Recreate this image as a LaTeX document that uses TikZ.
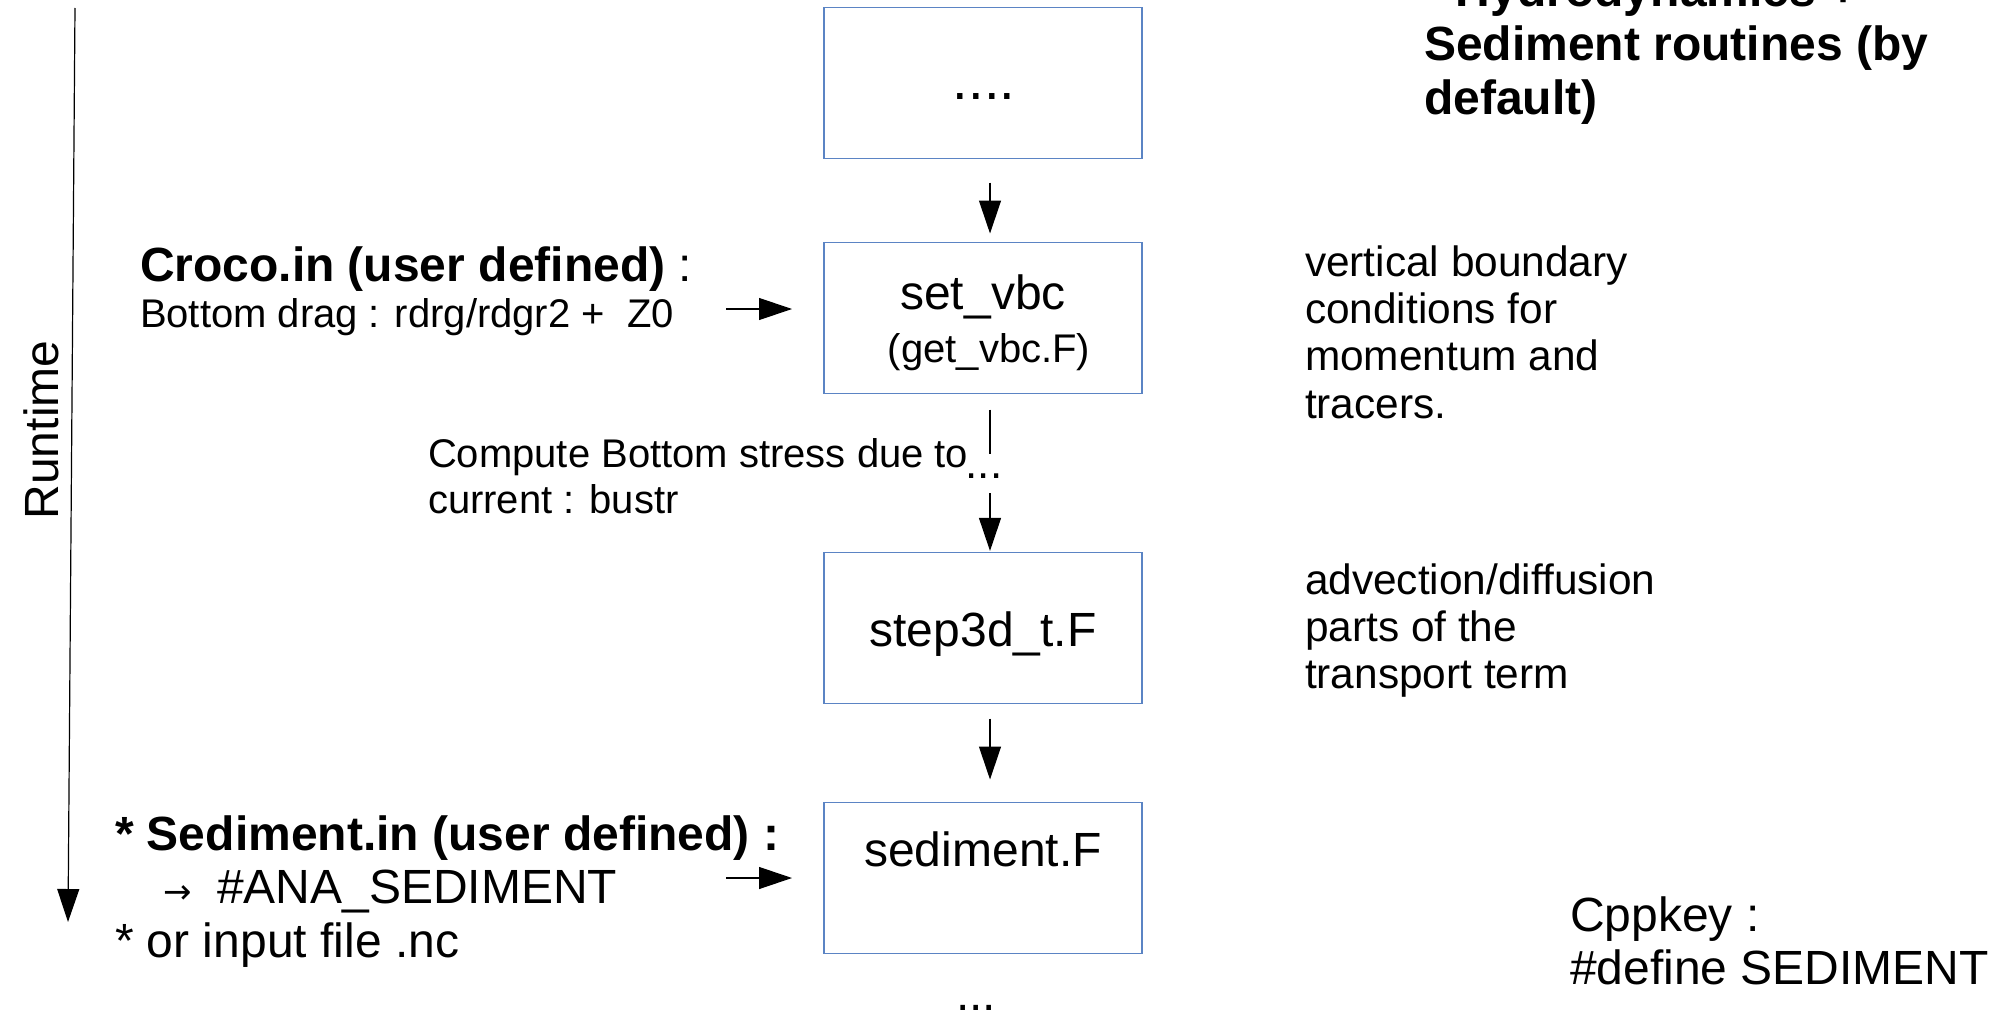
\documentclass[tikz,border=0pt]{standalone}
\usepackage{fontspec}
\setmainfont{Liberation Sans}
\newfontfamily\djv{DejaVu Sans}
\usetikzlibrary{arrows.meta}
\definecolor{boxblue}{HTML}{5B84C4}
\begin{document}
\begin{tikzpicture}[x=0.5pt,y=-0.5pt,
  box/.style={draw=boxblue, line width=0.7pt, minimum width=159pt, minimum height=75.5pt, inner sep=0pt, outer sep=0pt},
  txt/.style={inner sep=0pt, outer sep=0pt, anchor=base west},
  ctr/.style={inner sep=0pt, outer sep=0pt, anchor=base},
  arr/.style={line width=0.6pt, -{Triangle[length=16.5pt,width=11pt]}},
  ln/.style={line width=0.6pt},
  fa/.style={font=\fontsize{24}{27}\selectfont},
  fb/.style={font=\fontsize{20}{23}\selectfont},
  fc/.style={font=\fontsize{21.2}{24}\selectfont},
  fd/.style={font=\fontsize{24}{27}\selectfont\bfseries},
]
\useasboundingbox (0,0) rectangle (1990,1011);

% boxes
\node[box] (box1) at (983,83) {};
\node[box] (box2) at (983,318) {};
\node[box] (box3) at (983,628) {};
\node[box] (box4) at (983,878) {};

% box texts
\node[ctr,font=\fontsize{28}{30}\selectfont] (t1) at (984,100) {....};
\node[ctr,fa] (t2a) at (983,309) {set\_vbc};
\node[ctr,fb] (t2b) at (989,362) {(get\_vbc.F)};
\node[ctr,fa] (t3) at (983,646) {step3d\_t.F};
\node[ctr,fa] (t4) at (983,866) {sediment.F};

% vertical connectors
\draw[arr, shorten <=12pt, shorten >=4.5pt] ([xshift=3.5pt]box1.south) -- ([xshift=3.5pt]box2.north);
\node[ctr,font=\fontsize{22}{26}\selectfont, text height=12.25pt, text depth=7.25pt] (mid) at (984,478.5) {...};
\draw[ln, shorten <=8pt] ([xshift=3.5pt]box2.south) -- ([xshift=3.5pt]box2.south |- mid.north);
\draw[arr, shorten >=0.8pt] ([xshift=3.5pt]box3.north |- mid.south) -- ([xshift=3.5pt]box3.north);
\draw[arr, shorten <=7.5pt, shorten >=11.5pt] ([xshift=3.5pt]box3.south) -- ([xshift=3.5pt]box4.north);
\node[ctr,fa] (tail) at (976,1010) {...};

% horizontal connectors
\coordinate (ca) at (726,309);
\draw[arr, shorten >=16pt] (ca) -- (ca -| box2.west);
\coordinate (sa) at (726,878);
\draw[arr, shorten >=16pt] (sa) -- (sa -| box4.west);

% runtime axis
\coordinate (rt1) at (75,8);
\coordinate (rt2) at (68,922);
\draw[arr] (rt1) -- (rt2);
\node[ctr,fa,rotate=90] (runtime) at (58,430) {Runtime};

% left texts
\node[txt,fa] (croco) at (140,281) {\textbf{Croco.in (user defined)} :};
\node[txt,fb] (drag) at (140,327) {Bottom drag : rdrg/rdgr2 +\ \ Z0};
\node[txt,fb] (comp1) at (428,467) {Compute Bottom stress due to};
\node[txt,fb] (comp2) at (428,513) {current : bustr};
\node[txt,fd] (sed1) at (115,850) {* Sediment.in (user defined) :};
\node[txt,font=\djv\fontsize{17}{20}\selectfont] (sedarr) at (163,903) {→};
\node[txt,fa] (sed2) at (217,903) {\#ANA\_SEDIMENT};
\node[txt,fa] (sed3) at (115,957) {* or input file .nc};

% right texts
\node[txt,fc] (v1) at (1305,276) {vertical boundary};
\node[txt,fc] (v2) at (1305,323) {conditions for};
\node[txt,fc] (v3) at (1305,370) {momentum and};
\node[txt,fc] (v4) at (1305,418) {tracers.};
\node[txt,fc] (a1) at (1305,594) {advection/diffusion};
\node[txt,fc] (a2) at (1305,641) {parts of the};
\node[txt,fc] (a3) at (1305,688) {transport term};

\node[txt,fd] (h1) at (1424,7) {* Hydrodynamics +};
\node[txt,fd] (h2) at (1424,61) {Sediment routines (by};
\node[txt,fd] (h3) at (1424,115) {default)};

\node[txt,fa] (cpp1) at (1570,931) {Cppkey :};
\node[txt,fa] (cpp2) at (1570,984) {\#define SEDIMENT};
\end{tikzpicture}
\end{document}
